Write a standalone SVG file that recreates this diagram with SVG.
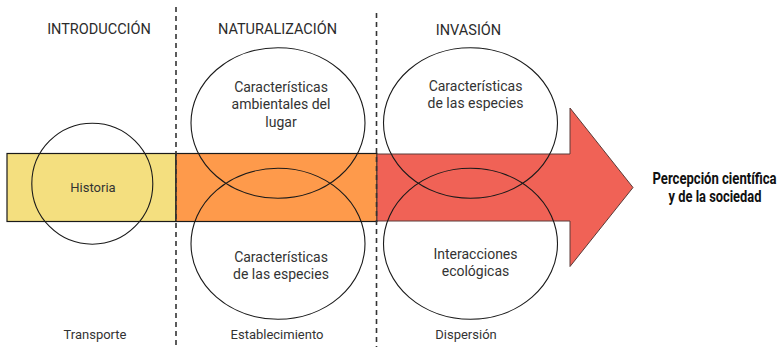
<svg xmlns="http://www.w3.org/2000/svg" width="783" height="347" viewBox="0 0 783 347">
<style>
.t{font-family:Roboto,"Liberation Sans",sans-serif;fill:#2b2b2b;text-anchor:middle}
.h{font-size:14.5px}
.n{font-size:14px;fill:#333}
.s{font-size:13px;fill:#333}
.b{font-size:16px;font-weight:bold;fill:#111}
.e{fill:none;stroke:#1a1a1a;stroke-width:1.1}
.d{stroke:#333;stroke-width:1.6;stroke-dasharray:5 4;fill:none}
</style>
<rect width="783" height="347" fill="#fff"/>
<g id="bands">
<rect x="7" y="153.5" width="169" height="68" fill="#F4DF7F" stroke="#1a1a1a" stroke-width="1.2"/>
<rect x="176" y="153.5" width="201" height="68" fill="#FE9A4B" stroke="#1a1a1a" stroke-width="1.2"/>
<path d="M377,154 H570 V108 L633,187.5 L570,266.5 V221 H377 Z" fill="#F06256" stroke="#5a3b38" stroke-width="1"/>
</g>
<g id="connectors">
<line class="d" x1="176" y1="7" x2="176" y2="347"/>
<line class="d" x1="376.5" y1="13" x2="376.5" y2="347"/>
</g>
<g id="historia">
<circle class="e" cx="92.3" cy="183.7" r="60.5"/>
<text class="t s" x="93" y="191.5">Historia</text>
</g>
<g id="nat-top">
<ellipse class="e" cx="278" cy="123" rx="87" ry="75.3"/>
<text class="t n" x="281" y="91.5">Características</text>
<text class="t n" x="281" y="109">ambientales del</text>
<text class="t n" x="281" y="126.5">lugar</text>
</g>
<g id="nat-bottom">
<ellipse class="e" cx="278" cy="243.8" rx="87" ry="75.5"/>
<text class="t n" x="281" y="261.5">Características</text>
<text class="t n" x="281" y="278.5">de las especies</text>
</g>
<g id="inv-top">
<ellipse class="e" cx="470.5" cy="123" rx="87" ry="75.3"/>
<text class="t n" x="475.5" y="90.5">Características</text>
<text class="t n" x="475.5" y="108">de las especies</text>
</g>
<g id="inv-bottom">
<ellipse class="e" cx="470.5" cy="243.8" rx="87" ry="75.5"/>
<text class="t n" x="475.5" y="259">Interacciones</text>
<text class="t n" x="475.5" y="276">ecológicas</text>
</g>
<g id="titles">
<text class="t h" x="99" y="33.5">INTRODUCCIÓN</text>
<text class="t h" x="277.5" y="33.5">NATURALIZACIÓN</text>
<text class="t h" x="468.5" y="35">INVASIÓN</text>
</g>
<g id="labels">
<text class="t s" x="95" y="338.5">Transporte</text>
<text class="t s" x="277" y="338.5">Establecimiento</text>
<text class="t s" x="466" y="338.5">Dispersión</text>
</g>
<g id="result">
<text class="t b" transform="translate(714.5,183.5) scale(0.8,1)" x="0" y="0" textLength="155" lengthAdjust="spacingAndGlyphs">Percepción científica</text>
<text class="t b" transform="translate(715,202) scale(0.8,1)" x="0" y="0" textLength="116" lengthAdjust="spacingAndGlyphs">y de la sociedad</text>
</g>
</svg>
